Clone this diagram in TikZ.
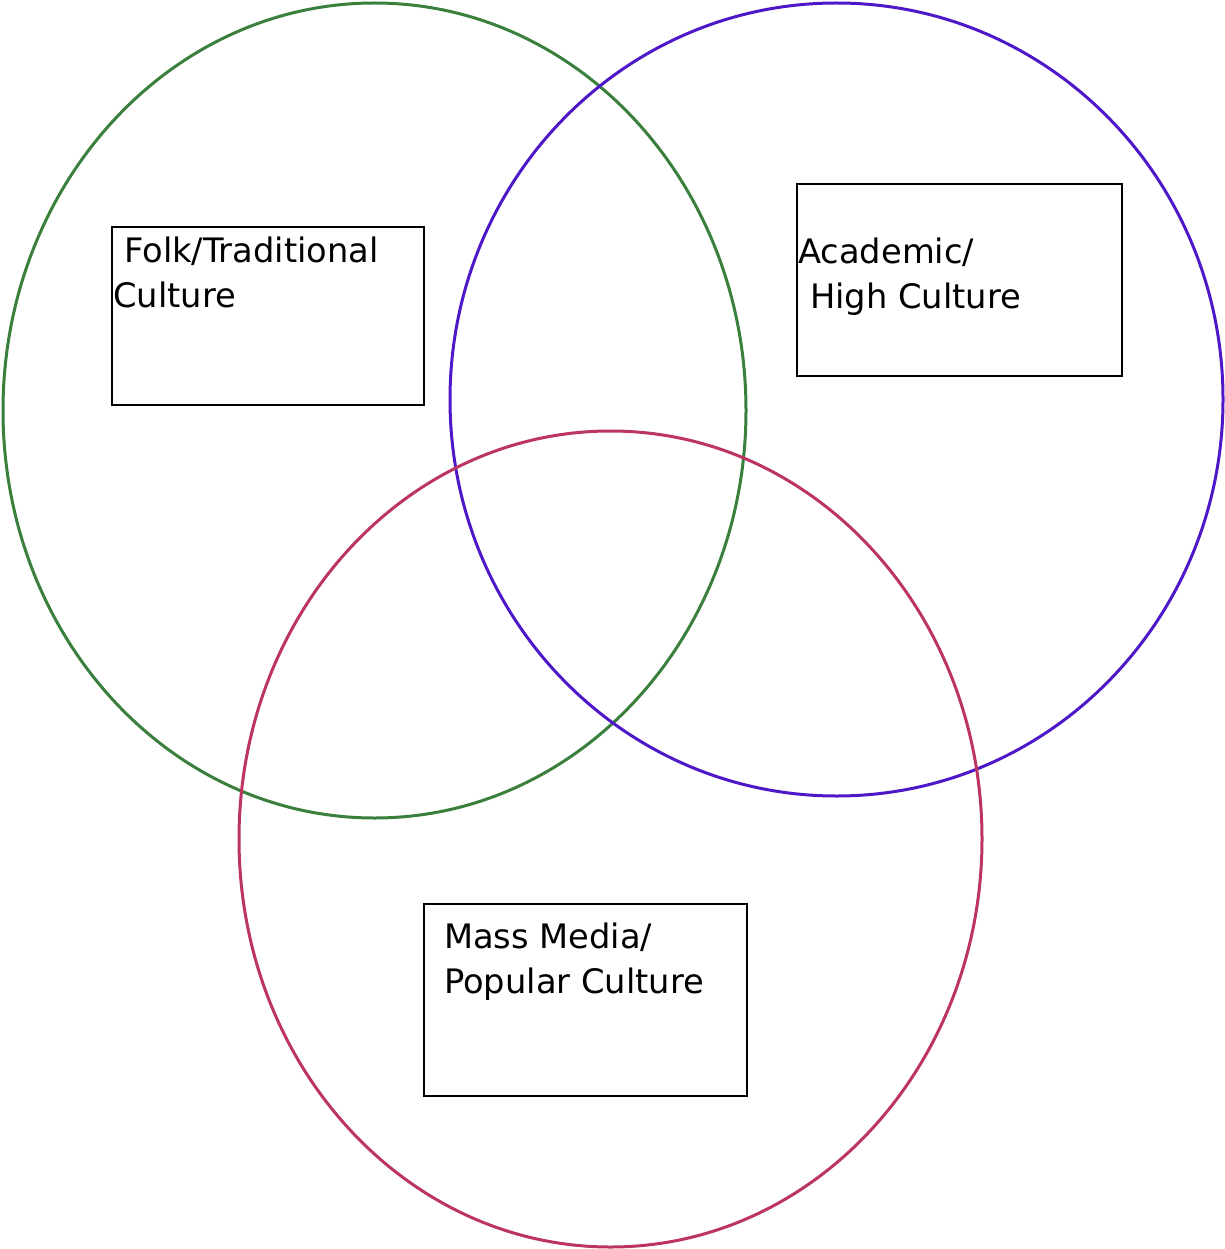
\documentclass[tikz,border=0pt]{standalone}
\usepackage{fontspec}
\setmainfont{DejaVu Sans}
\definecolor{cgreen}{RGB}{58,128,60}
\definecolor{cpurple}{RGB}{78,24,200}
\definecolor{cred}{RGB}{188,52,100}
\begin{document}
\begin{tikzpicture}[x=1pt,y=-1pt,
  ring/.style={line width=3pt},
  box/.style={draw=black,line width=1.3pt,inner sep=0pt},
  lbl/.style={anchor=base west,inner sep=0pt,font=\fontsize{33.7}{40}\selectfont}]
\useasboundingbox (0,0) rectangle (1224,1249);
\fill[white] (0,0) rectangle (1224,1249);
\draw[ring,cgreen] (374.5,410.5) ellipse [x radius=371.5, y radius=407.5];
\draw[ring,cpurple] (836.5,399.5) ellipse [x radius=386.5, y radius=396.5];
\draw[ring,cred] (610.5,839) ellipse [x radius=371.5, y radius=408];
\node[box,minimum width=312pt,minimum height=178pt] (folk) at (268,316) {};
\node[box,minimum width=325pt,minimum height=192pt] (acad) at (959.5,280) {};
\node[box,minimum width=323pt,minimum height=192pt] (mass) at (585.5,1000) {};
\node[lbl] (folk1) at (124,262) {Folk/Traditional};
\node[lbl] (folk2) at (113,307) {Culture};
\node[lbl] (acad1) at (798,263) {Academic/};
\node[lbl] (acad2) at (810,308) {High Culture};
\node[lbl] (mass1) at (444,948) {Mass Media/};
\node[lbl] (mass2) at (444,993) {Popular Culture};
\end{tikzpicture}
\end{document}
